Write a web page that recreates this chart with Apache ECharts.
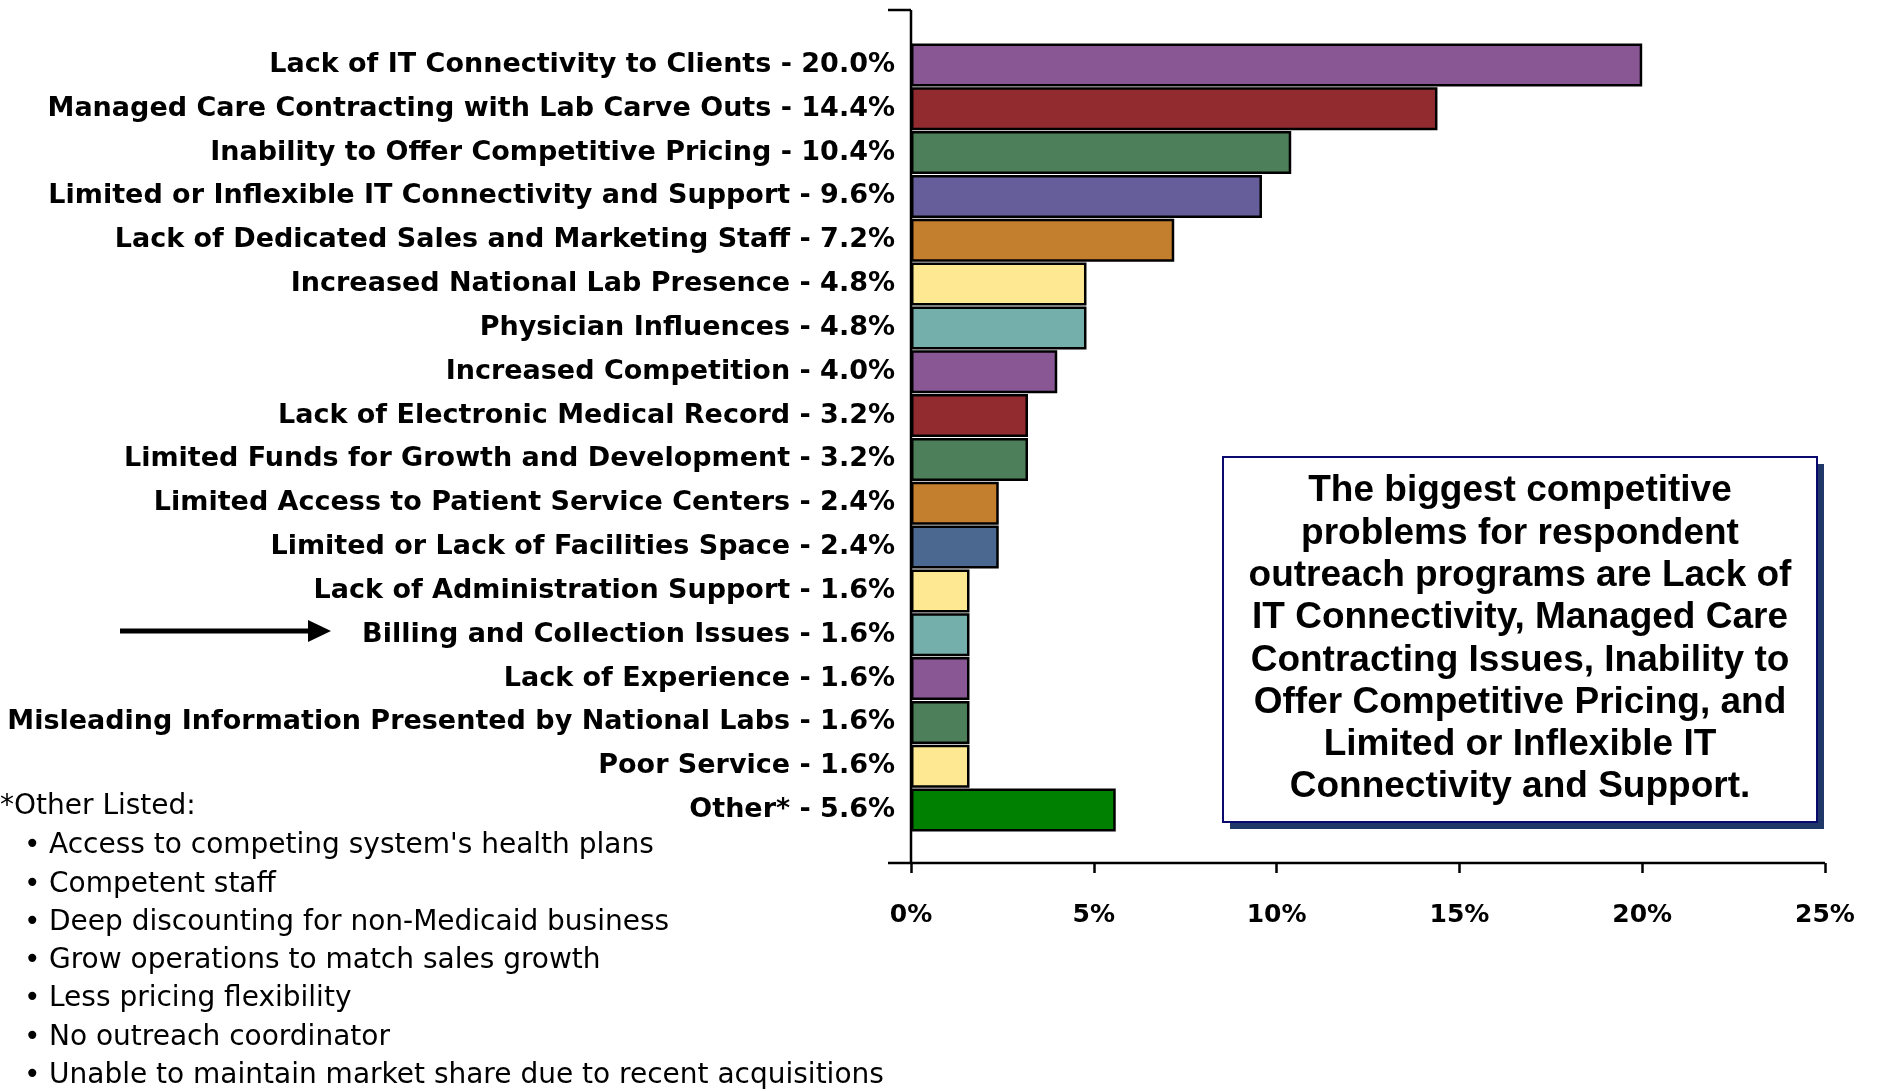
<!DOCTYPE html>
<html>
<head>
<meta charset="utf-8">
<style>
  html, body { margin: 0; padding: 0; background: #fff; }
  #chart { width: 1877px; height: 1091px; }
</style>
<script src="https://cdn.jsdelivr.net/npm/echarts@6/dist/echarts.min.js"></script>
</head>
<body>
<div id="chart"></div>
<script>
// Competitive problems named by outreach programs (share of responses, %)
const categories = [
  'Lack of IT Connectivity to Clients',
  'Managed Care Contracting with Lab Carve Outs',
  'Inability to Offer Competitive Pricing',
  'Limited or Inflexible IT Connectivity and Support',
  'Lack of Dedicated Sales and Marketing Staff',
  'Increased National Lab Presence',
  'Physician Influences',
  'Increased Competition',
  'Lack of Electronic Medical Record',
  'Limited Funds for Growth and Development',
  'Limited Access to Patient Service Centers',
  'Limited or Lack of Facilities Space',
  'Lack of Administration Support',
  'Billing and Collection Issues',
  'Lack of Experience',
  'Misleading Information Presented by National Labs',
  'Poor Service',
  'Other*'
];
const values = [20.0, 14.4, 10.4, 9.6, 7.2, 4.8, 4.8, 4.0, 3.2, 3.2, 2.4, 2.4, 1.6, 1.6, 1.6, 1.6, 1.6, 5.6];
const barColors = [
  '#8A5795', '#922B2F', '#4C7F5A', '#665E9A', '#C47F2E', '#FFE892',
  '#74AFAC', '#8A5795', '#922B2F', '#4C7F5A', '#C47F2E', '#4B6891',
  '#FFE892', '#74AFAC', '#8A5795', '#4C7F5A', '#FFE892', '#008000'
];
const axisTicks = [0, 5, 10, 15, 20, 25];

const otherHeading = '*Other Listed:';
const otherItems = [
  "Access to competing system's health plans",
  'Competent staff',
  'Deep discounting for non-Medicaid business',
  'Grow operations to match sales growth',
  'Less pricing flexibility',
  'No outreach coordinator',
  'Unable to maintain market share due to recent acquisitions'
];
const calloutLines = [
  'The biggest competitive',
  'problems for respondent',
  'outreach programs are Lack of',
  'IT Connectivity, Managed Care',
  'Contracting Issues, Inability to',
  'Offer Competitive Pricing, and',
  'Limited or Inflexible IT',
  'Connectivity and Support.'
];

const labelFont = 'DejaVu Sans';
const chart = echarts.init(document.getElementById('chart'), null, { renderer: 'canvas' });

const axisX = 911, axisTop = 10, axisBottom = 863, axisRight = 1825;

const graphics = [
  // value-axis frame lines
  { type: 'line', shape: { x1: axisX, y1: axisTop, x2: axisX, y2: axisBottom }, style: { stroke: '#000', lineWidth: 2.5 } },
  { type: 'line', shape: { x1: 888, y1: axisTop, x2: axisX, y2: axisTop }, style: { stroke: '#000', lineWidth: 2.5 } },
  { type: 'line', shape: { x1: 888, y1: axisBottom, x2: axisRight, y2: axisBottom }, style: { stroke: '#000', lineWidth: 2.5 } },
  // arrow pointing at Billing and Collection Issues
  { type: 'line', shape: { x1: 120, y1: 631, x2: 312, y2: 631 }, style: { stroke: '#000', lineWidth: 5 } },
  { type: 'polygon', shape: { points: [[308, 620], [331, 631], [308, 642]] }, style: { fill: '#000' } },
  // footnote
  { type: 'text', left: 0, top: 793, style: { text: otherHeading, font: '28px "' + labelFont + '"', fill: '#000' } }
];
otherItems.forEach((t, i) => {
  const y = 832 + i * 38.3;
  graphics.push({ type: 'text', left: 24, top: y, style: { text: '\u2022', font: '28px "' + labelFont + '"', fill: '#000' } });
  graphics.push({ type: 'text', left: 49, top: y, style: { text: t, font: '28px "' + labelFont + '"', fill: '#000' } });
});
// callout box with shadow
graphics.push({ type: 'rect', shape: { x: 1230, y: 464, width: 594, height: 365 }, style: { fill: '#1F3868' } });
graphics.push({ type: 'rect', shape: { x: 1223, y: 457, width: 594, height: 365 }, style: { fill: '#fff', stroke: '#0A0A6E', lineWidth: 2 } });
graphics.push({ type: 'text', x: 1520, y: 470,
  style: { text: calloutLines.join('\n'), font: 'bold 37px "Liberation Sans"', fill: '#000',
           align: 'center', verticalAlign: 'top', lineHeight: 42.3 } });

chart.setOption({
  animation: false,
  backgroundColor: '#fff',
  grid: { left: axisX, right: 1877 - axisRight, top: 43, bottom: 1091 - 832, containLabel: false },
  xAxis: {
    type: 'value', min: 0, max: 25, interval: 5,
    offset: axisBottom - 832,
    axisLine: { show: false },
    axisTick: { show: true, length: 10, lineStyle: { color: '#000', width: 2.5 } },
    splitLine: { show: false },
    axisLabel: {
      margin: 40, color: '#000', fontFamily: labelFont, fontWeight: 'bold', fontSize: 25,
      formatter: v => axisTicks.includes(v) ? v + '%' : ''
    }
  },
  yAxis: {
    type: 'category', inverse: true, data: categories,
    axisLine: { show: false }, axisTick: { show: false },
    axisLabel: {
      margin: 16, color: '#000', fontFamily: labelFont, fontWeight: 'bold', fontSize: 27,
      formatter: (name, idx) => name + ' - ' + values[idx].toFixed(1) + '%'
    }
  },
  series: [{
    type: 'bar',
    barCategoryGap: '2%',
    data: values.map((v, i) => ({ value: v, itemStyle: { color: barColors[i] } })),
    itemStyle: { borderColor: '#000', borderWidth: 2.5 }
  }],
  graphic: graphics
});
</script>
</body>
</html>
